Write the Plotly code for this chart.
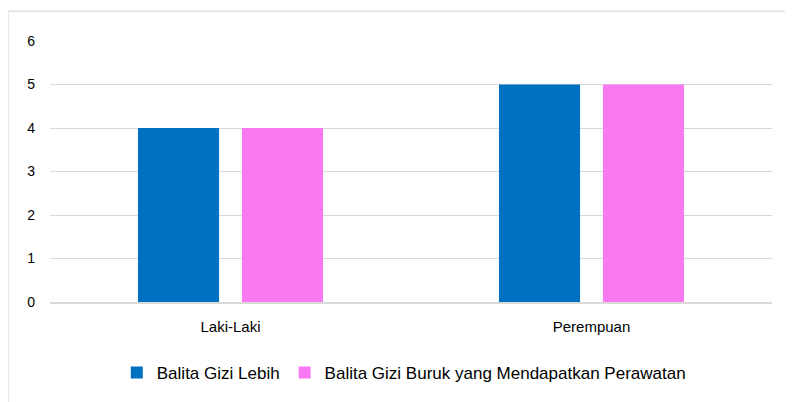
import plotly.graph_objects as go

categories = ["Laki-Laki", "Perempuan"]
series_names = ["Balita Gizi Lebih", "Balita Gizi Buruk yang Mendapatkan Perawatan"]
gizi_lebih = [4, 5]
gizi_buruk_rawat = [4, 5]
y_ticks = [0, 1, 2, 3, 4, 5, 6]

colors = ["#0070C0", "#F879F2"]

fig = go.Figure()
for name, vals, col in zip(series_names, [gizi_lebih, gizi_buruk_rawat], colors):
    fig.add_trace(go.Bar(x=categories, y=vals, name=name, marker=dict(color=col, line=dict(width=0))))

font = "Liberation Sans, Arial, sans-serif"
fig.update_layout(
    width=785, height=394,
    margin=dict(l=42, r=21, t=33, b=99),
    paper_bgcolor="white", plot_bgcolor="white",
    barmode="group", bargap=0.424, bargroupgap=0.22,
    font=dict(family=font, size=15, color="#000000"),
    showlegend=True,
    legend=dict(orientation="h", x=0.49, xanchor="center", y=-0.267, yanchor="middle",
                font=dict(size=17, color="#000000"), itemwidth=30, traceorder="normal"),
    shapes=[dict(type="rect", xref="paper", yref="paper", x0=-0.0582, x1=1.06, y0=-0.45, y1=1.1145,
                 line=dict(color="#D9D9D9", width=1.2), fillcolor="rgba(0,0,0,0)", layer="below")],
)
fig.update_yaxes(range=[0, 6], tickvals=y_ticks, showgrid=True, gridcolor="#D9D9D9", gridwidth=1,
                 zeroline=False, showline=False, ticks="", ticklabelstandoff=14,
                 tickfont=dict(size=14, color="#000000"))
fig.update_xaxes(showline=True, linecolor="#D9D9D9", linewidth=1.5, ticks="", ticklabelstandoff=10,
                 tickfont=dict(size=15, color="#000000"))

fig.write_html("out.html")
